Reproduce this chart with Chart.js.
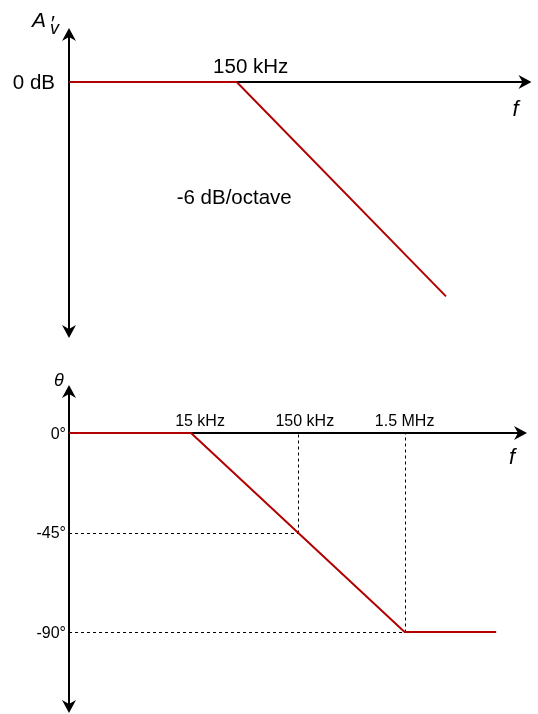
<!DOCTYPE html>
<html>
<head>
<meta charset="utf-8">
<title>Bode plot</title>
<script src="https://cdn.jsdelivr.net/npm/chart.js@4.4.1/dist/chart.umd.min.js"></script>
<style>
    html, body { margin: 0; padding: 0; background: #fff; }
    .wrap { position: relative; width: 538px; height: 714px; overflow: hidden; }
    canvas { position: absolute; left: 0; }
    #magChart { top: 0; }
    #phaseChart { top: 350px; }
</style>
</head>
<body>
<div class="wrap">
    <canvas id="magChart" width="538" height="350"></canvas>
    <canvas id="phaseChart" width="538" height="364"></canvas>
</div>
<script>
// Magnitude plot (Hz / dB)
const magFreq = [10e3, 150e3, 4.4e6];
const magDb = [0, 0, -29.3];
const magTickFreq = [150e3];
const magTickLabels = ['150 kHz'];
const magLevelValues = [0];
const magLevelLabels = ['0 dB'];
const slopeNote = '-6 dB/octave';
const slopeNoteFreq = 144e3;
const slopeNoteDb = -15.7;

// Phase plot (Hz / degrees)
const phaseFreq = [1.08e3, 15e3, 1.5e6, 10.8e6];
const phaseDeg = [0, 0, -90, -90];
const phaseTickFreq = [15e3, 150e3, 1.5e6];
const phaseTickLabels = ['15 kHz', '150 kHz', '1.5 MHz'];
const phaseLevelValues = [0, -45, -90];
const phaseLevelLabels = ['0°', '-45°', '-90°'];
const guideFreq = [150e3, 1.5e6];
const guideDeg = [-45, -90];

const RED = '#B20000';
const FONT = "'Liberation Sans', Arial, Helvetica, sans-serif";

// Flecha estilo "classic"
function drawArrow(ctx, x, y, dir) {
    const len = 13, half = 7, notch = 4;
    ctx.save();
    ctx.translate(x, y);
    ctx.rotate({ right: 0, up: -Math.PI / 2, down: Math.PI / 2 }[dir]);
    ctx.beginPath();
    ctx.moveTo(0, 0);
    ctx.lineTo(-len, -half);
    ctx.lineTo(-len + notch, 0);
    ctx.lineTo(-len, half);
    ctx.closePath();
    ctx.fill();
    ctx.restore();
}

// Ejes, guías y rótulos
const bodeAxes = {
    id: 'bodeAxes',
    beforeDatasetsDraw(chart, args, opts) {
        const { ctx, chartArea: area, scales: { x, y } } = chart;
        const y0 = Math.round(y.getPixelForValue(0));
        ctx.save();
        ctx.strokeStyle = '#000';
        ctx.fillStyle = '#000';

        // guías punteadas
        ctx.lineWidth = 1;
        ctx.setLineDash([3, 3]);
        (opts.guideFreq || []).forEach((f, i) => {
            const gx = Math.round(x.getPixelForValue(f)) + 0.5;
            const gy = Math.round(y.getPixelForValue(opts.guideVal[i])) + 0.5;
            ctx.beginPath();
            ctx.moveTo(area.left, gy);
            ctx.lineTo(gx, gy);
            ctx.moveTo(gx, gy);
            ctx.lineTo(gx, y0);
            ctx.stroke();
        });
        ctx.setLineDash([]);

        // ejes
        ctx.lineWidth = 2;
        ctx.beginPath();
        ctx.moveTo(area.left, area.top + 8);
        ctx.lineTo(area.left, area.bottom - 8);
        ctx.moveTo(area.left, y0);
        ctx.lineTo(area.right - 8, y0);
        ctx.stroke();
        drawArrow(ctx, area.left, area.top, 'up');
        drawArrow(ctx, area.left, area.bottom, 'down');
        drawArrow(ctx, area.right, y0, 'right');
        ctx.restore();
    },
    afterDatasetsDraw(chart, args, opts) {
        const { ctx, chartArea: area, scales: { x, y } } = chart;
        const y0 = y.getPixelForValue(0);
        const mid = 1.5; // 'middle' queda un poco alto
        ctx.save();
        ctx.fillStyle = '#000';
        ctx.textBaseline = 'middle';

        // rótulos de frecuencia
        ctx.font = `${opts.fontSize}px ${FONT}`;
        ctx.textAlign = 'center';
        opts.tickFreq.forEach((f, i) => {
            ctx.fillText(opts.tickLabels[i], x.getPixelForValue(f) + opts.tickDx[i], y0 - opts.tickDy + mid);
        });

        // rótulos de nivel
        ctx.textAlign = 'right';
        opts.levelValues.forEach((v, i) => {
            ctx.fillText(opts.levelLabels[i], area.left - opts.levelGap, y.getPixelForValue(v) + mid);
        });

        // nota de pendiente
        if (opts.note) {
            ctx.textAlign = 'center';
            ctx.fillText(opts.note, x.getPixelForValue(opts.noteFreq), y.getPixelForValue(opts.noteVal) + mid);
        }

        // f
        ctx.font = `italic 22px ${FONT}`;
        ctx.fillText('f', area.right - opts.fDx, y0 + opts.fDy);

        // título del eje vertical
        ctx.textAlign = 'left';
        ctx.textBaseline = 'alphabetic';
        if (opts.title === 'A') {
            ctx.font = `italic 21px ${FONT}`;
            ctx.fillText('A', area.left - 37, area.top - 1);
            ctx.fillText('\u2032', area.left - 19, area.top + 2);
            ctx.font = `italic 18px ${FONT}`;
            ctx.fillText('v', area.left - 19, area.top + 6);
        } else {
            ctx.font = `italic 18px ${FONT}`;
            ctx.textAlign = 'center';
            ctx.textBaseline = 'middle';
            ctx.fillText('\u03B8', area.left - 10, area.top - 4);
        }
        ctx.restore();
    }
};

function makeChart(id, freq, vals, xRange, yRange, padding, axesOpts) {
    return new Chart(document.getElementById(id), {
        type: 'line',
        data: {
            datasets: [{
                data: freq.map((f, i) => ({ x: f, y: vals[i] })),
                borderColor: RED,
                borderWidth: 2,
                pointRadius: 0,
                tension: 0,
                clip: false
            }]
        },
        options: {
            responsive: false,
            animation: false,
            devicePixelRatio: 1,
            layout: { padding },
            scales: {
                x: { type: 'logarithmic', min: xRange[0], max: xRange[1], display: false },
                y: { type: 'linear', min: yRange[0], max: yRange[1], display: false }
            },
            plugins: {
                legend: { display: false },
                tooltip: { enabled: false },
                bodeAxes: axesOpts
            }
        },
        plugins: [bodeAxes]
    });
}

document.addEventListener('DOMContentLoaded', () => {
    makeChart('magChart', magFreq, magDb, [10e3, 17.5e6], [-35, 7.4],
        { left: 69, right: 6.5, top: 28, bottom: 12 },
        {
            fontSize: 20.5,
            tickFreq: magTickFreq, tickLabels: magTickLabels, tickDx: [14], tickDy: 16,
            levelValues: magLevelValues, levelLabels: magLevelLabels, levelGap: 14,
            note: slopeNote, noteFreq: slopeNoteFreq, noteVal: slopeNoteDb,
            fDx: 16, fDy: 28, title: 'A'
        });

    makeChart('phaseChart', phaseFreq, phaseDeg, [1.08e3, 21e6], [-126.6, 21.7],
        { left: 69, right: 11, top: 35, bottom: 1 },
        {
            fontSize: 16,
            tickFreq: phaseTickFreq, tickLabels: phaseTickLabels, tickDx: [9, 7, 0], tickDy: 13,
            levelValues: phaseLevelValues, levelLabels: phaseLevelLabels, levelGap: 3,
            guideFreq, guideVal: guideDeg,
            fDx: 12, fDy: 25, title: 'theta'
        });
});
</script>
</body>
</html>
